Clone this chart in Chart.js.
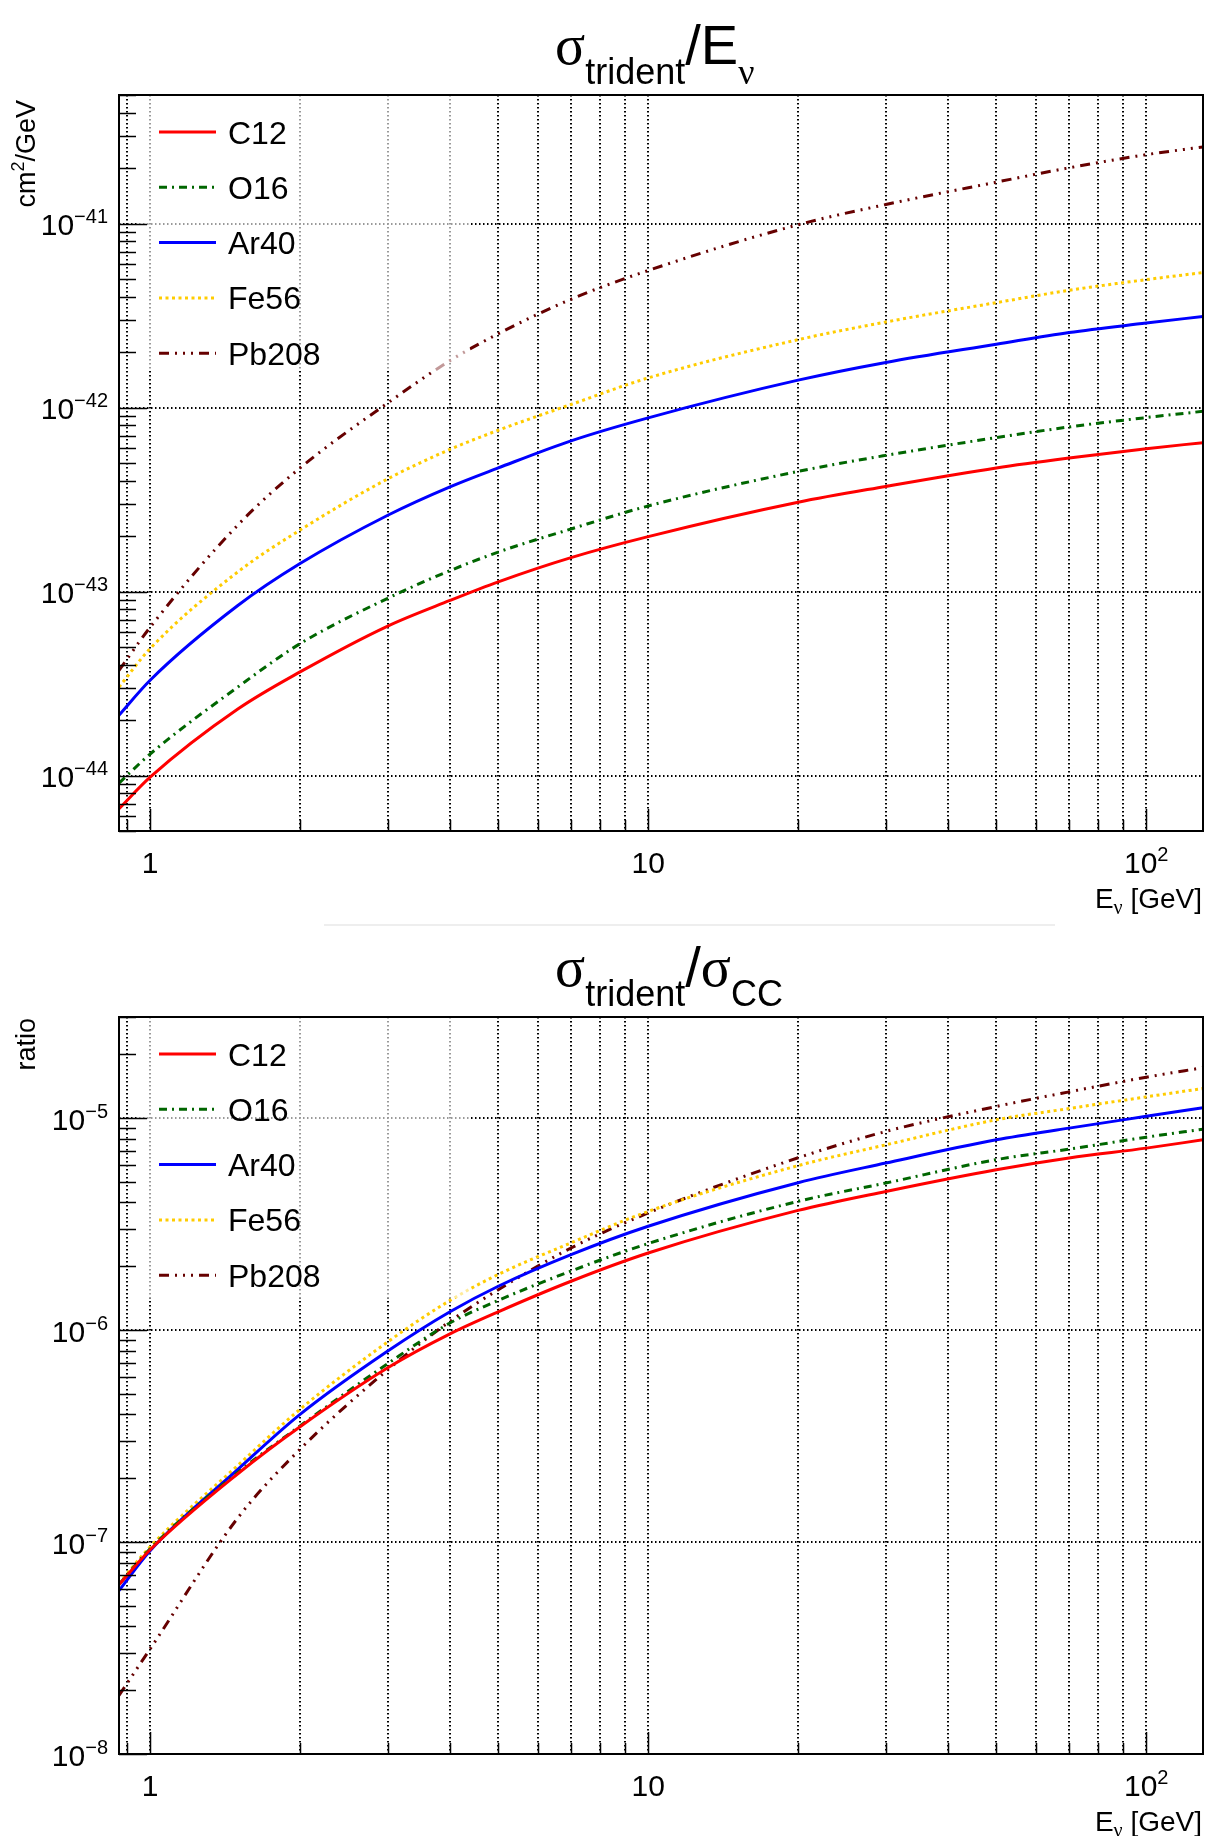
<!DOCTYPE html>
<html>
<head>
<meta charset="utf-8">
<script src="https://cdn.jsdelivr.net/npm/chart.js@4.4.1/dist/chart.umd.min.js"></script>
<style>
  html, body { margin: 0; padding: 0; background: #fff; }
  .pad { width: 1211px; height: 918px; }
  canvas { display: block; }
</style>
</head>
<body>
<div class="pad"><canvas id="perEnergy" width="1211" height="918"></canvas></div>
<div class="pad"><canvas id="perCC" width="1211" height="918"></canvas></div>
<script>
// neutrino energies (GeV) where every curve is sampled
const energies = [0.866, 1, 1.5, 2, 3, 4, 5, 7, 10, 20, 30, 50, 70, 100, 130];

// sigma_trident / E_nu  in cm^2/GeV
const xsecC12   = [6.6e-45, 9.8e-45, 2.3e-44, 3.66e-44, 6.5e-44, 8.95e-44, 1.13e-43, 1.53e-43, 1.99e-43, 3.06e-43, 3.73e-43, 4.7e-43, 5.32e-43, 5.98e-43, 6.45e-43];
const xsecO16   = [9.1e-45, 1.31e-44, 3.03e-44, 5.21e-44, 9.2e-44, 1.30e-43, 1.64e-43, 2.19e-43, 2.92e-43, 4.5e-43, 5.5e-43, 6.87e-43, 7.85e-43, 8.83e-43, 9.55e-43];
const xsecAr40  = [2.13e-44, 3.3e-44, 8.4e-44, 1.42e-43, 2.6e-43, 3.71e-43, 4.7e-43, 6.6e-43, 8.8e-43, 1.41e-42, 1.76e-42, 2.21e-42, 2.56e-42, 2.88e-42, 3.13e-42];
const xsecFe56  = [3.03e-44, 4.9e-44, 1.28e-43, 2.16e-43, 4.1e-43, 5.93e-43, 7.53e-43, 1.04e-42, 1.45e-42, 2.34e-42, 2.92e-42, 3.72e-42, 4.34e-42, 4.96e-42, 5.42e-42];
const xsecPb208 = [3.73e-44, 6.4e-44, 2.3e-43, 4.7e-43, 1.06e-42, 1.8e-42, 2.52e-42, 3.88e-42, 5.56e-42, 9.86e-42, 1.27e-41, 1.68e-41, 2.01e-41, 2.37e-41, 2.61e-41];

// sigma_trident / sigma_CC
const ratioC12   = [6.3e-8, 9.2e-8, 2.1e-7, 3.5e-7, 6.64e-7, 9.6e-7, 1.22e-6, 1.7e-6, 2.31e-6, 3.67e-6, 4.51e-6, 5.71e-6, 6.49e-6, 7.22e-6, 7.9e-6];
const ratioO16   = [6.3e-8, 9.3e-8, 2.13e-7, 3.53e-7, 6.95e-7, 1.08e-6, 1.38e-6, 1.9e-6, 2.56e-6, 4.05e-6, 4.94e-6, 6.37e-6, 7.14e-6, 8.13e-6, 8.87e-6];
const ratioAr40  = [5.9e-8, 9.1e-8, 2.2e-7, 4.0e-7, 7.96e-7, 1.22e-6, 1.61e-6, 2.27e-6, 3.09e-6, 4.96e-6, 6.14e-6, 7.9e-6, 8.97e-6, 1.02e-5, 1.12e-5];
const ratioFe56  = [6.4e-8, 9.5e-8, 2.3e-7, 4.23e-7, 8.8e-7, 1.38e-6, 1.83e-6, 2.58e-6, 3.63e-6, 5.97e-6, 7.48e-6, 9.82e-6, 1.11e-5, 1.26e-5, 1.38e-5];
const ratioPb208 = [1.89e-8, 3.13e-8, 1.3e-7, 2.74e-7, 6.5e-7, 1.1e-6, 1.55e-6, 2.44e-6, 3.57e-6, 6.5e-6, 8.65e-6, 1.135e-5, 1.33e-5, 1.56e-5, 1.73e-5];

const nuclei = ['C12', 'O16', 'Ar40', 'Fe56', 'Pb208'];
const lineColors = ['#ff0000', '#006600', '#0000ff', '#ffcc00', '#660000'];
const lineDashes = [[], [8, 5, 2, 5], [], [3, 3.5], [10, 6, 2, 6, 2, 6, 2, 6]];

// E_nu axis: grid line at every mark, labels only at the decades
const xMarks = [0.9, 1, 2, 3, 4, 5, 6, 7, 8, 9, 10, 20, 30, 40, 50, 60, 70, 80, 90, 100];
const xLabelValues = [1, 10, 100];
const xLabelBases = ['1', '10', '10'];
const xLabelExps = ['', '', '2'];

const topDecades = [1e-44, 1e-43, 1e-42, 1e-41];
const topDecadeExps = ['\u221244', '\u221243', '\u221242', '\u221241'];
const bottomDecades = [1e-8, 1e-7, 1e-6, 1e-5];
const bottomDecadeExps = ['\u22128', '\u22127', '\u22126', '\u22125'];

const SANS = '"Liberation Sans", Arial, sans-serif';
const GREEK = '"Liberation Serif", "DejaVu Serif", serif';

function makeDatasets(series) {
  return nuclei.map((name, i) => ({
    label: name,
    data: energies.map((e, j) => ({ x: e, y: series[i][j] })),
    borderColor: lineColors[i],
    borderDash: lineDashes[i],
    borderWidth: 3,
    pointRadius: 0,
    fill: false,
    cubicInterpolationMode: 'monotone'
  }));
}

// base number with an optional raised exponent, e.g. 10^-41
function drawPower(ctx, base, exp, x, y, align) {
  ctx.font = '30px ' + SANS;
  const wb = ctx.measureText(base).width;
  ctx.font = '20px ' + SANS;
  const we = exp ? ctx.measureText(exp).width : 0;
  let x0 = x;
  if (align === 'right') x0 = x - wb - we;
  if (align === 'center') x0 = x - (wb + we) / 2;
  ctx.textAlign = 'left';
  ctx.font = '30px ' + SANS;
  ctx.fillText(base, x0, y);
  if (exp) {
    ctx.font = '20px ' + SANS;
    ctx.fillText(exp, x0 + wb, y - 12);
  }
}

// pieces: [text, size, baseline shift, family]
function drawRich(ctx, pieces, x, y, align) {
  let w = 0;
  pieces.forEach(p => { ctx.font = p[1] + 'px ' + p[3]; w += ctx.measureText(p[0]).width; });
  let cx = x;
  if (align === 'center') cx = x - w / 2;
  if (align === 'right') cx = x - w;
  ctx.textAlign = 'left';
  pieces.forEach(p => {
    ctx.font = p[1] + 'px ' + p[3];
    ctx.fillText(p[0], cx, y + p[2]);
    cx += ctx.measureText(p[0]).width;
  });
}

function hline(ctx, x1, x2, y) { ctx.beginPath(); ctx.moveTo(x1, y); ctx.lineTo(x2, y); ctx.stroke(); }
function vline(ctx, x, y1, y2) { ctx.beginPath(); ctx.moveTo(x, y1); ctx.lineTo(x, y2); ctx.stroke(); }

// ROOT-like pad: dotted grid, inward ticks, legend, titles
const rootPad = {
  id: 'rootPad',
  beforeDatasetsDraw(chart, args, o) {
    const { ctx, chartArea: a, scales: { x, y } } = chart;
    ctx.save();
    ctx.strokeStyle = '#000';
    ctx.lineWidth = 2;
    ctx.setLineDash([1.5, 2.5]);
    xMarks.forEach(v => vline(ctx, Math.round(x.getPixelForValue(v)), a.top, a.bottom));
    o.decades.forEach(v => hline(ctx, a.left, a.right, Math.round(y.getPixelForValue(v))));
    ctx.restore();
  },
  afterDatasetsDraw(chart, args, o) {
    const { ctx, chartArea: a, scales: { x, y } } = chart;
    ctx.save();

    // legend: translucent box over grid and curves
    ctx.fillStyle = 'rgba(255,255,255,0.6)';
    ctx.fillRect(137, a.top + 1, 333, o.legendBottom - a.top);
    ctx.textBaseline = 'alphabetic';
    chart.data.datasets.forEach((ds, i) => {
      const ry = a.top + 37 + i * 55.3;
      ctx.strokeStyle = ds.borderColor;
      ctx.lineWidth = 3;
      ctx.setLineDash(ds.borderDash);
      hline(ctx, 159, 216, ry);
      ctx.setLineDash([]);
      ctx.fillStyle = '#000';
      ctx.font = '32px ' + SANS;
      ctx.textAlign = 'left';
      ctx.fillText(ds.label, 228, ry + 11.5);
    });

    // frame
    ctx.setLineDash([]);
    ctx.strokeStyle = '#000';
    ctx.lineWidth = 2;
    ctx.strokeRect(a.left, a.top, a.right - a.left, a.bottom - a.top);

    // x ticks (inward)
    ctx.lineWidth = 1.5;
    xMarks.forEach(v => {
      const px = Math.round(x.getPixelForValue(v)) + 0.5;
      const len = xLabelValues.includes(v) ? 22 : 11;
      vline(ctx, px, a.bottom, a.bottom - len);
    });
    // y ticks: long at decades, short at 2..9
    const lo = Math.floor(Math.log10(y.min)), hi = Math.ceil(Math.log10(y.max));
    for (let d = lo; d <= hi; d++) {
      for (let k = 1; k <= 9; k++) {
        const v = k * Math.pow(10, d);
        if (v < y.min * 0.999 || v > y.max * 1.001) continue;
        const py = Math.round(y.getPixelForValue(v)) + 0.5;
        hline(ctx, a.left, a.left + (k === 1 ? 28 : 17), py);
      }
    }

    // tick labels
    ctx.fillStyle = '#000';
    xLabelValues.forEach((v, i) => drawPower(ctx, xLabelBases[i], xLabelExps[i], x.getPixelForValue(v), a.bottom + 42, 'center'));
    o.decades.forEach((v, i) => drawPower(ctx, '10', o.decadeExps[i], a.left - 11, y.getPixelForValue(v) + 11.5, 'right'));

    // x axis title
    drawRich(ctx, [['E', 28, 0, SANS], ['\u03bd', 20, 6, GREEK], [' [GeV]', 28, 0, SANS]], 1202, a.bottom + 77, 'right');

    // y axis title, right-aligned to the top of the axis
    ctx.save();
    ctx.translate(35, a.top + o.yTitleGap);
    ctx.rotate(-Math.PI / 2);
    drawRich(ctx, o.yTitle, 0, 0, 'right');
    ctx.restore();

    // pad title
    drawRich(ctx, o.title, 555, a.top - 31, 'left');

    // faint remnant of the lower pad's title box
    if (o.titleBoxLine) {
      ctx.strokeStyle = '#eeeeee';
      ctx.lineWidth = 2;
      hline(ctx, 324, 1055, o.titleBoxLine);
    }
    ctx.restore();
  }
};

function makeChart(id, series, yMin, yMax, padTop, xHeight, opts) {
  return new Chart(document.getElementById(id), {
    type: 'line',
    data: { datasets: makeDatasets(series) },
    options: {
      responsive: false,
      animation: false,
      layout: { padding: { top: padTop, right: 8, left: 0, bottom: 0 } },
      plugins: { legend: { display: false }, tooltip: { enabled: false }, title: { display: false }, rootPad: opts },
      scales: {
        x: {
          type: 'logarithmic', min: 0.866, max: 130,
          grid: { display: false }, border: { display: false }, ticks: { display: false },
          afterFit(s) { s.height = xHeight; }
        },
        y: {
          type: 'logarithmic', min: yMin, max: yMax,
          grid: { display: false }, border: { display: false }, ticks: { display: false },
          afterFit(s) { s.width = 119; }
        }
      }
    },
    plugins: [rootPad]
  });
}

makeChart('perEnergy', [xsecC12, xsecO16, xsecAr40, xsecFe56, xsecPb208], 5e-45, 5e-41, 95, 87, {
  decades: topDecades,
  decadeExps: topDecadeExps,
  legendBottom: 370,
  yTitleGap: 5,
  yTitle: [['cm', 27, 0, SANS], ['2', 18, -11, SANS], ['/GeV', 27, 0, SANS]],
  title: [['\u03c3', 56, 0, GREEK], ['trident', 36, 20, SANS], ['/E', 56, 0, SANS], ['\u03bd', 36, 20, GREEK]]
});

makeChart('perCC', [ratioC12, ratioO16, ratioAr40, ratioFe56, ratioPb208], 1e-8, 3e-5, 99, 82, {
  decades: bottomDecades,
  decadeExps: bottomDecadeExps,
  legendBottom: 379,
  yTitleGap: 1,
  titleBoxLine: 7,
  yTitle: [['ratio', 27, 0, SANS]],
  title: [['\u03c3', 56, 0, GREEK], ['trident', 36, 20, SANS], ['/', 56, 0, SANS], ['\u03c3', 56, 0, GREEK], ['CC', 36, 20, SANS]]
});
</script>
</body>
</html>
